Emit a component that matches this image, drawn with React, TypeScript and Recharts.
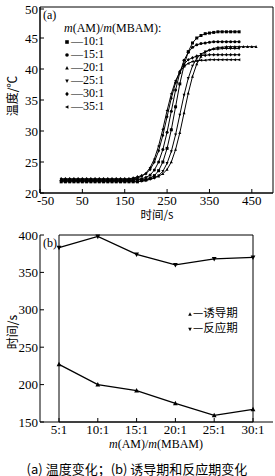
import { LineChart, Line, XAxis, YAxis, ReferenceArea } from "recharts";

const SERIF = '"Liberation Serif", "Noto Sans CJK SC", serif';
const CJK = '"Noto Sans CJK SC", "Liberation Sans", sans-serif';

// (a) temperature curves, sampled every 10 s
const TIME = [
  0, 10, 20, 30, 40, 50, 60, 70, 80, 90, 100, 110, 120, 130, 140, 150, 160, 170, 180, 190, 200,
  210, 220, 230, 240, 250, 260, 270, 280, 290, 300, 310, 320, 330, 340, 350, 360, 370, 380, 390,
  400, 410, 420,
];
const TIME_LONG = [...TIME, 430, 440, 450, 460];

const T_10 = [
  21.8, 21.8, 21.8, 21.8, 21.8, 21.8, 21.8, 21.8, 21.8, 21.8, 21.8, 21.8, 21.8, 21.8, 21.8, 21.8,
  21.8, 21.8, 21.8, 22.0, 22.1, 22.4, 22.8, 23.6, 25.0, 27.2, 30.2, 33.9, 37.6, 40.6, 42.8, 44.2,
  45.0, 45.4, 45.7, 45.8, 45.9, 46.0, 46.0, 46.0, 46.0, 46.0, 46.0,
];
const T_15 = [
  22.0, 22.0, 22.0, 22.0, 22.0, 22.0, 22.0, 22.0, 22.0, 22.0, 22.0, 22.0, 22.0, 22.0, 22.0, 22.0,
  22.0, 22.0, 22.2, 22.3, 22.5, 22.9, 23.7, 25.0, 27.0, 29.8, 33.2, 36.6, 39.4, 41.4, 42.7, 43.5,
  43.9, 44.1, 44.2, 44.3, 44.4, 44.4, 44.4, 44.4, 44.4, 44.4, 44.4,
];
const T_20 = [
  22.2, 22.2, 22.2, 22.2, 22.2, 22.2, 22.2, 22.2, 22.2, 22.2, 22.2, 22.2, 22.2, 22.2, 22.2, 22.2,
  22.2, 22.2, 22.2, 22.2, 22.2, 22.3, 22.5, 22.7, 23.1, 23.8, 25.0, 27.0, 29.7, 32.9, 36.1, 38.8,
  40.8, 42.0, 42.7, 43.1, 43.3, 43.5, 43.5, 43.6, 43.6, 43.6, 43.6, 43.6, 43.6, 43.6, 43.6,
];
const T_25 = [
  21.9, 21.9, 21.9, 21.9, 21.9, 21.9, 21.9, 21.9, 21.9, 21.9, 21.9, 21.9, 21.9, 21.9, 21.9, 21.9,
  21.9, 21.9, 21.9, 21.9, 22.0, 22.2, 22.4, 22.8, 23.5, 24.8, 26.7, 29.4, 32.6, 35.8, 38.5, 40.5,
  41.7, 42.4, 42.8, 43.0, 43.2, 43.2, 43.3, 43.3, 43.3, 43.3, 43.3,
];
const T_30 = [
  22.3, 22.3, 22.3, 22.3, 22.3, 22.3, 22.3, 22.3, 22.3, 22.3, 22.3, 22.3, 22.3, 22.3, 22.3, 22.3,
  22.3, 22.4, 22.6, 22.8, 23.1, 23.8, 25.0, 26.8, 29.3, 32.3, 35.3, 37.8, 39.6, 40.8, 41.5, 41.8,
  42.1, 42.2, 42.2, 42.3, 42.3, 42.3, 42.3, 42.3, 42.3, 42.3, 42.3,
];
const T_35 = [
  22.1, 22.1, 22.1, 22.1, 22.1, 22.1, 22.1, 22.1, 22.1, 22.1, 22.1, 22.1, 22.1, 22.1, 22.1, 22.1,
  22.2, 22.3, 22.4, 22.7, 23.2, 24.1, 25.5, 27.6, 30.3, 33.3, 36.0, 38.1, 39.5, 40.4, 40.9, 41.2,
  41.3, 41.4, 41.4, 41.5, 41.5, 41.5, 41.5, 41.5, 41.5, 41.5, 41.5,
];

const X_TICKS_A = [-50, 50, 150, 250, 350, 450];
const Y_TICKS_A = [20, 25, 30, 35, 40, 45, 50];

// (b) induction / reaction periods
const RATIOS = ["5:1", "10:1", "15:1", "20:1", "25:1", "30:1"];
const INDUCTION = [227, 200, 192, 175, 159, 167];
const REACTION = [383, 398, 374, 360, 368, 370];
const Y_TICKS_B = [150, 200, 250, 300, 350, 400];

type Shape = "square" | "circle" | "up" | "down" | "diamond" | "left";

const SERIES_A: { name: string; shape: Shape; time: number[]; temp: number[] }[] = [
  { name: "10:1", shape: "square", time: TIME, temp: T_10 },
  { name: "15:1", shape: "circle", time: TIME, temp: T_15 },
  { name: "20:1", shape: "up", time: TIME_LONG, temp: T_20 },
  { name: "25:1", shape: "down", time: TIME, temp: T_25 },
  { name: "30:1", shape: "diamond", time: TIME, temp: T_30 },
  { name: "35:1", shape: "left", time: TIME, temp: T_35 },
];

const pathFor = (shape: Shape, x: number, y: number, s: number) => {
  switch (shape) {
    case "square":
      return `M${x - s},${y - s}h${2 * s}v${2 * s}h${-2 * s}Z`;
    case "up":
      return `M${x},${y - s * 1.1}L${x + s},${y + s * 0.8}L${x - s},${y + s * 0.8}Z`;
    case "down":
      return `M${x},${y + s * 1.1}L${x + s},${y - s * 0.8}L${x - s},${y - s * 0.8}Z`;
    case "diamond":
      return `M${x},${y - s * 1.2}L${x + s},${y}L${x},${y + s * 1.2}L${x - s},${y}Z`;
    case "left":
      return `M${x - s * 1.1},${y}L${x + s * 0.8},${y - s}L${x + s * 0.8},${y + s}Z`;
    default:
      return "";
  }
};

const Marker = ({ shape, cx, cy, s }: { shape: Shape; cx: number; cy: number; s: number }) =>
  shape === "circle" ? (
    <circle cx={cx} cy={cy} r={s} fill="#000" />
  ) : (
    <path d={pathFor(shape, cx, cy, s)} fill="#000" />
  );

const makeDot = (shape: Shape, s: number) => (props: any) => {
  const { cx, cy, index } = props;
  if (cx == null || cy == null) return <g key={`${shape}-${index}`} />;
  return (
    <g key={`${shape}-${index}`}>
      <Marker shape={shape} cx={cx} cy={cy} s={s} />
    </g>
  );
};

const XTick = (props: any) => {
  const { x, y, payload, index } = props;
  // the first label of panel (a) sits just right of the corner, as in the original
  const first = index === 0 && typeof payload.value === "number";
  return (
    <g>
      <line x1={x} x2={x} y1={y - 2} y2={y - 6} stroke="#000" />
      <text
        x={first ? x - 3 : x}
        y={y + 9.5}
        textAnchor={first ? "start" : "middle"}
        fontSize={13}
        fontFamily={SERIF}
        fill="#000"
      >
        {payload.value}
      </text>
    </g>
  );
};

const YTick = (props: any) => {
  const { x, y, payload } = props;
  return (
    <g>
      <line x1={x + 2} x2={x + 6} y1={y} y2={y} stroke="#000" />
      <text x={x} y={y + 4.5} textAnchor="end" fontSize={13} fontFamily={SERIF} fill="#000">
        {payload.value}
      </text>
    </g>
  );
};

const Txt = ({
  x,
  y,
  children,
  size = 12,
  font = SERIF,
  rotate = false,
  anchor = "left",
}: any) => (
  <div
    style={{
      position: "absolute",
      left: x,
      top: y,
      fontSize: size,
      fontFamily: font,
      lineHeight: 1,
      whiteSpace: "nowrap",
      color: "#000",
      transform:
        (anchor === "center" ? "translate(-50%, -50%)" : "translate(0, -50%)") +
        (rotate ? " rotate(-90deg)" : ""),
    }}
  >
    {children}
  </div>
);

const Icon = ({ shape, s = 1.8 }: { shape: Shape; s?: number }) => (
  <svg width={6} height={6} style={{ display: "inline-block", verticalAlign: "middle" }}>
    <Marker shape={shape} cx={3} cy={3} s={s} />
  </svg>
);

const App = () => {
  const dataB = RATIOS.map((r, i) => ({ r, ind: INDUCTION[i], rea: REACTION[i] }));

  return (
    <div
      style={{
        position: "absolute",
        left: 0,
        top: 0,
        width: 275,
        height: 476,
        background: "#fff",
        overflow: "hidden",
      }}
    >
      {/* (a) temperature vs time */}
      <div style={{ position: "absolute", left: 0, top: 0 }}>
        <LineChart width={275} height={225} margin={{ top: 7, right: 2, bottom: 0, left: 0 }}>
          <XAxis
            type="number"
            dataKey="t"
            domain={[-50, 500]}
            ticks={X_TICKS_A}
            allowDataOverflow
            height={32}
            tickSize={0}
            tickMargin={2}
            tick={<XTick />}
            stroke="#000"
          />
          <YAxis
            type="number"
            dataKey="v"
            domain={[20, 50]}
            ticks={Y_TICKS_A}
            width={40}
            tickSize={0}
            tickMargin={2}
            tick={<YTick />}
            stroke="#000"
          />
          <ReferenceArea y1={20} y2={50} fill="none" stroke="#000" strokeWidth={1} />
          {SERIES_A.map((s) => (
            <Line
              key={s.name}
              data={s.time.map((t, i) => ({ t, v: s.temp[i] }))}
              dataKey="v"
              type="linear"
              stroke="#000"
              strokeWidth={1}
              dot={makeDot(s.shape, 1.5)}
              isAnimationActive={false}
            />
          ))}
        </LineChart>
      </div>

      <Txt x={43} y={15}>(a)</Txt>
      <Txt x={64} y={28}>
        <i>m</i>(AM)/<i>m</i>(MBAM):
      </Txt>
      {SERIES_A.map((s, i) => (
        <Txt key={s.name} x={64} y={41 + i * 13}>
          <Icon shape={s.shape} />
          <span style={{ marginLeft: 1 }}>—{s.name}</span>
        </Txt>
      ))}
      <Txt x={12} y={96} rotate anchor="center" font={CJK}>
        温度/℃
      </Txt>
      <Txt x={157} y={215} anchor="center" font={CJK} size={11.5}>
        时间/s
      </Txt>

      {/* (b) induction and reaction period */}
      <div style={{ position: "absolute", left: 0, top: 225 }}>
        <LineChart
          width={275}
          height={225}
          data={dataB}
          margin={{ top: 10, right: 2, bottom: 0, left: 0 }}
        >
          <XAxis
            dataKey="r"
            type="category"
            padding={{ left: 19, right: 20 }}
            height={28}
            tickSize={0}
            tickMargin={2}
            tick={<XTick />}
            interval={0}
            stroke="#000"
          />
          <YAxis
            type="number"
            domain={[150, 400]}
            ticks={Y_TICKS_B}
            width={40}
            tickSize={0}
            tickMargin={2}
            tick={<YTick />}
            stroke="#000"
          />
          <ReferenceArea y1={150} y2={400} fill="none" stroke="#000" strokeWidth={1} />
          <Line
            dataKey="rea"
            type="linear"
            stroke="#000"
            strokeWidth={1.3}
            dot={makeDot("down", 2.4)}
            isAnimationActive={false}
          />
          <Line
            dataKey="ind"
            type="linear"
            stroke="#000"
            strokeWidth={1.3}
            dot={makeDot("up", 2.4)}
            isAnimationActive={false}
          />
        </LineChart>
      </div>

      <Txt x={43} y={243}>(b)</Txt>
      <Txt x={187} y={313} font={CJK} size={11.5}>
        <Icon shape="up" />
        <span>—诱导期</span>
      </Txt>
      <Txt x={187} y={328} font={CJK} size={11.5}>
        <Icon shape="down" />
        <span>—反应期</span>
      </Txt>
      <Txt x={12} y={332} rotate anchor="center" font={CJK}>
        时间/s
      </Txt>
      <Txt x={156} y={444} anchor="center">
        <i>m</i>(AM)/<i>m</i>(MBAM)
      </Txt>
      <Txt x={137} y={468} anchor="center" size={13} font={CJK}>
        (a) 温度变化；(b) 诱导期和反应期变化
      </Txt>
    </div>
  );
};

export default App;
